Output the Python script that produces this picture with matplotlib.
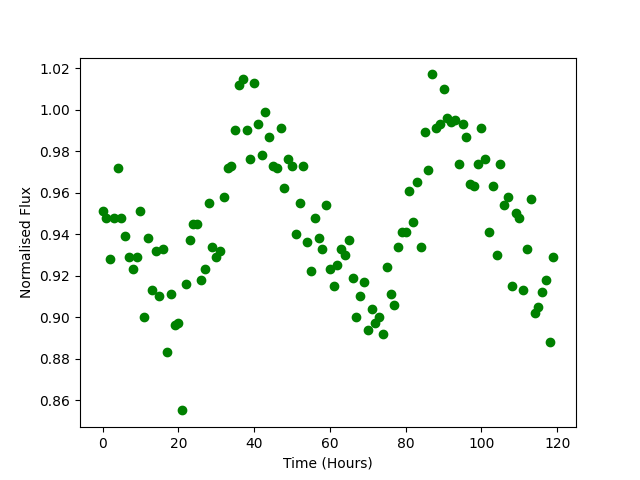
import matplotlib
matplotlib.use("Agg")
import matplotlib.pyplot as plt
import numpy as np

hours = list(range(120))
flux = [0.951, 0.948, 0.928, 0.948, 0.972, 0.948, 0.939, 0.929, 0.923, 0.929,
        0.951, 0.900, 0.938, 0.913, 0.932, 0.910, 0.933, 0.883, 0.911, 0.896,
        0.897, 0.855, 0.916, 0.937, 0.945, 0.945, 0.918, 0.923, 0.955, 0.934,
        0.929, 0.932, 0.958, 0.972, 0.973, 0.990, 1.012, 1.015, 0.990, 0.976,
        1.013, 0.993, 0.978, 0.999, 0.987, 0.973, 0.972, 0.991, 0.962, 0.976,
        0.973, 0.940, 0.955, 0.973, 0.936, 0.922, 0.948, 0.938, 0.933, 0.954,
        0.923, 0.915, 0.925, 0.933, 0.930, 0.937, 0.919, 0.900, 0.910, 0.917,
        0.894, 0.904, 0.897, 0.900, 0.892, 0.924, 0.911, 0.906, 0.934, 0.941,
        0.941, 0.961, 0.946, 0.965, 0.934, 0.989, 0.971, 1.017, 0.991, 0.993,
        1.010, 0.996, 0.994, 0.995, 0.974, 0.993, 0.987, 0.964, 0.963, 0.974,
        0.991, 0.976, 0.941, 0.963, 0.930, 0.974, 0.954, 0.958, 0.915, 0.950,
        0.948, 0.913, 0.933, 0.957, 0.902, 0.905, 0.912, 0.918, 0.888, 0.929]

fig, ax = plt.subplots(figsize=(6.4, 4.8), dpi=100)
ax.plot(hours, flux, 'o', color='green')
ax.set_xlabel('Time (Hours)')
ax.set_ylabel('Normalised Flux')
fig.savefig('out.png')
